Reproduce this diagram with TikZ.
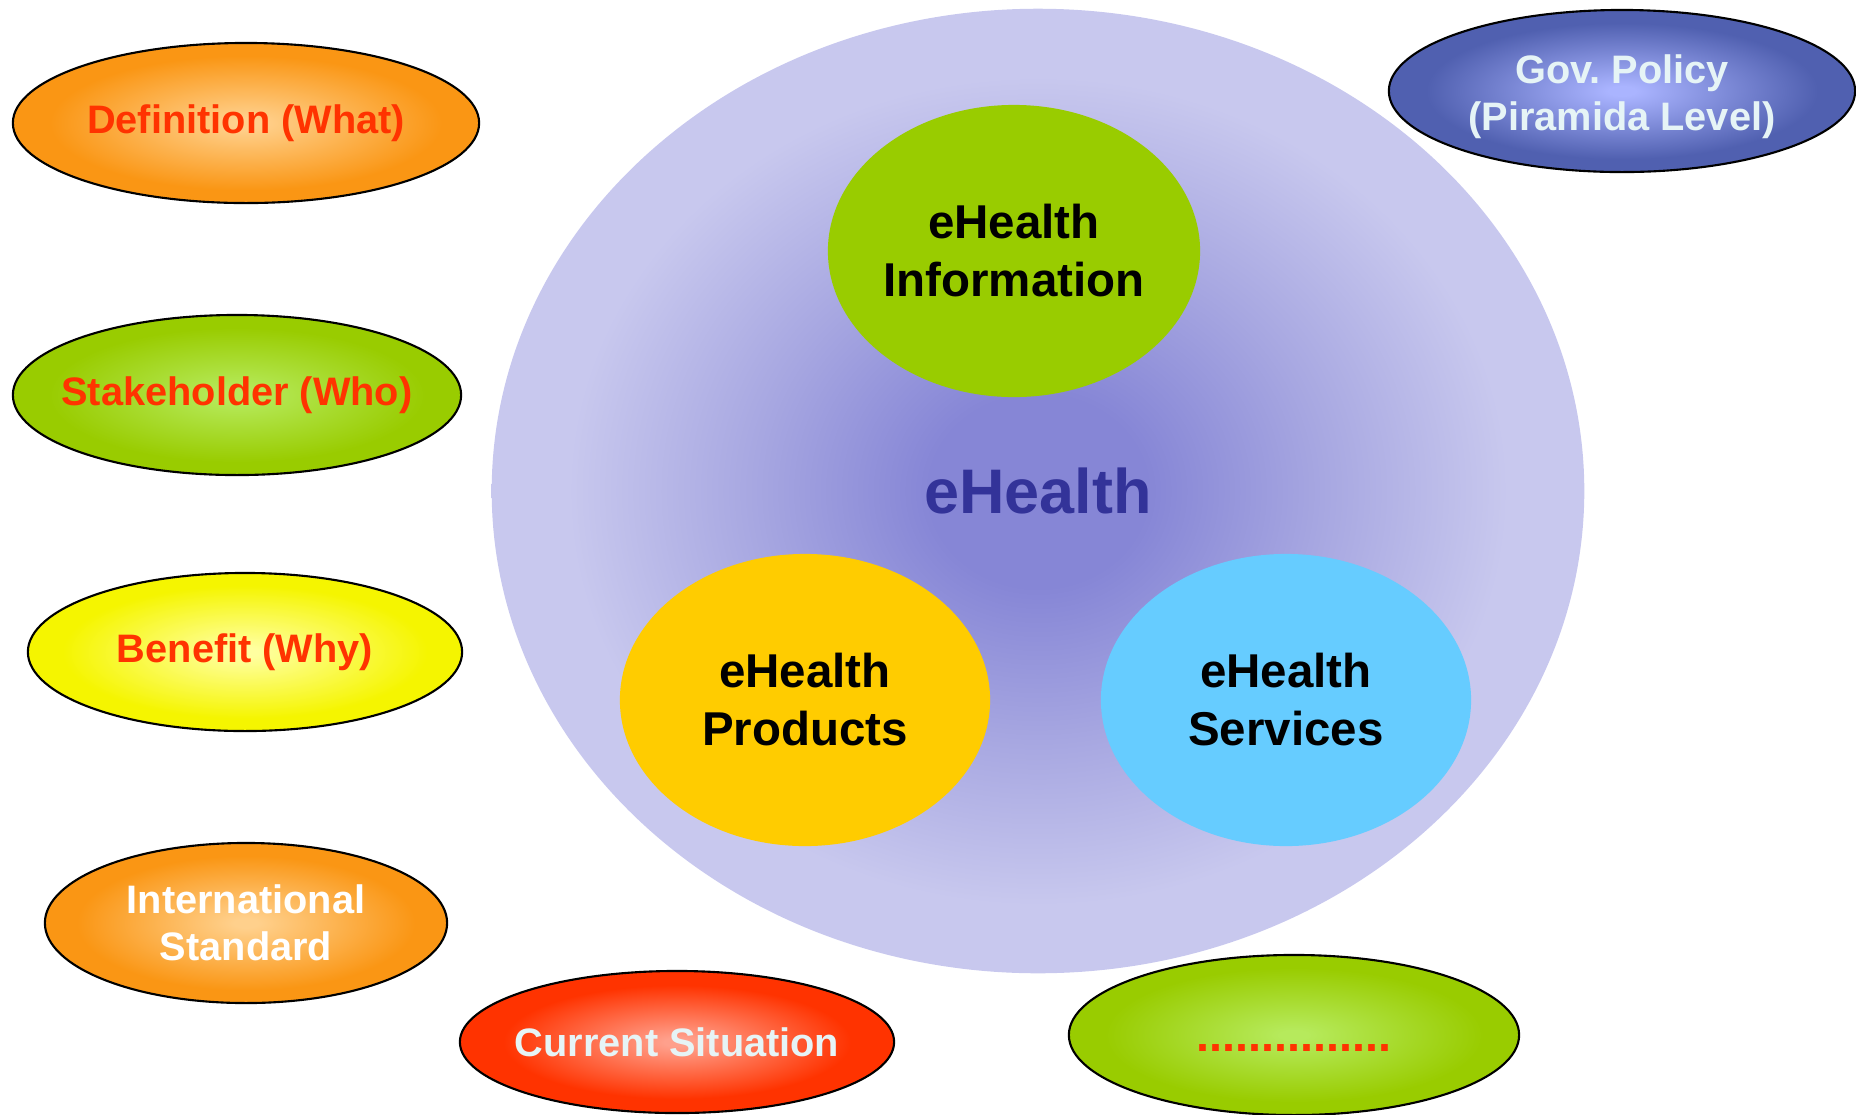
\documentclass[tikz,border=0pt]{standalone}
\usepackage{fontspec}
\setmainfont{Liberation Sans}
\usetikzlibrary{shapes.geometric}
\frenchspacing
\definecolor{bigin}{RGB}{134,134,214}
\definecolor{bigmid}{RGB}{167,167,225}
\definecolor{bigout}{RGB}{200,200,238}
\definecolor{orin}{RGB}{255,208,140}
\definecolor{orout}{RGB}{250,150,20}
\definecolor{grin}{RGB}{182,234,92}
\definecolor{grout}{RGB}{153,204,0}
\definecolor{yein}{RGB}{255,255,160}
\definecolor{yeout}{RGB}{245,245,0}
\definecolor{rdin}{RGB}{255,160,140}
\definecolor{rdout}{RGB}{255,51,0}
\definecolor{blin}{RGB}{170,180,255}
\definecolor{blout}{RGB}{80,96,176}
\definecolor{redtext}{RGB}{255,51,0}
\definecolor{paletext}{RGB}{230,244,246}
\definecolor{navytext}{RGB}{51,51,153}
\definecolor{infogreen}{RGB}{153,204,0}
\definecolor{prodyellow}{RGB}{255,204,0}
\definecolor{servblue}{RGB}{102,204,255}
\pgfdeclareradialshading{bigsh}{\pgfpoint{0bp}{0bp}}{color(0bp)=(bigin); color(5bp)=(bigin); color(13bp)=(bigmid); color(21.5bp)=(bigout); color(50bp)=(bigout)}
\pgfdeclareradialshading{orsh}{\pgfpoint{0bp}{0bp}}{color(0bp)=(orin); color(1.5bp)=(orin); color(21bp)=(orout); color(50bp)=(orout)}
\pgfdeclareradialshading{grsh}{\pgfpoint{0bp}{0bp}}{color(0bp)=(grin); color(1.5bp)=(grin); color(21bp)=(grout); color(50bp)=(grout)}
\pgfdeclareradialshading{yesh}{\pgfpoint{0bp}{0bp}}{color(0bp)=(yein); color(1.5bp)=(yein); color(21bp)=(yeout); color(50bp)=(yeout)}
\pgfdeclareradialshading{rdsh}{\pgfpoint{0bp}{0bp}}{color(0bp)=(rdin); color(1.5bp)=(rdin); color(20bp)=(rdout); color(50bp)=(rdout)}
\pgfdeclareradialshading{blsh}{\pgfpoint{0bp}{0bp}}{color(0bp)=(blin); color(1.5bp)=(blin); color(21bp)=(blout); color(50bp)=(blout)}
\begin{document}
\begin{tikzpicture}[x=0.01cm,y=-0.01cm,
  oval/.style={ellipse, draw=black, line width=0.6pt, inner sep=0pt},
  lbl/.style={align=center, inner sep=0pt, font=\bfseries\fontsize{11.3}{13.4}\selectfont},
  innerov/.style={ellipse, inner sep=0pt, align=center,
    font=\bfseries\fontsize{13.5}{16.5}\selectfont},
]
\useasboundingbox (0,0) rectangle (1856,1114);
% big circle
\node[ellipse, inner sep=0pt, shading=bigsh, minimum width=10.92cm, minimum height=9.64cm,
  text=navytext, font=\bfseries\fontsize{17.9}{20}\selectfont] (big) at (1038,491) {eHealth};
% inner ellipses
\node[innerov, fill=infogreen, minimum width=3.72cm, minimum height=2.92cm] (info) at (1014,251) {eHealth\\Information};
\node[innerov, fill=prodyellow, minimum width=3.70cm, minimum height=2.92cm] (prod) at (805,700) {eHealth\\Products};
\node[innerov, fill=servblue, minimum width=3.70cm, minimum height=2.92cm] (serv) at (1286,700) {eHealth\\Services};
% outer ovals
\node[oval, shading=orsh, minimum width=4.66cm, minimum height=1.60cm,
  label={[lbl, text=redtext]center:Definition (What)}] (def) at (246,123) {};
\node[oval, shading=grsh, minimum width=4.48cm, minimum height=1.60cm,
  label={[lbl, text=redtext]center:Stakeholder (Who)}] (stake) at (237,395) {};
\node[oval, shading=yesh, minimum width=4.34cm, minimum height=1.58cm,
  label={[lbl, text=redtext]center:Benefit (Why)}] (ben) at (245,652) {};
\node[oval, shading=orsh, minimum width=4.02cm, minimum height=1.60cm,
  label={[lbl, text=white]center:International\\Standard}] (intl) at (246,923) {};
\node[oval, shading=rdsh, minimum width=4.34cm, minimum height=1.42cm,
  label={[lbl, text=paletext]center:Current Situation}] (cur) at (677,1042) {};
\node[oval, shading=grsh, minimum width=4.50cm, minimum height=1.60cm,
  label={[lbl, text=redtext, font=\bfseries\fontsize{13.3}{13.4}\selectfont, text height=9.1pt, text depth=0pt]center:...............}] (dots) at (1294,1035) {};
\node[oval, shading=blsh, minimum width=4.66cm, minimum height=1.62cm,
  label={[lbl, text=paletext, yshift=-1.7pt]center:Gov.\ Policy\\(Piramida Level)}] (gov) at (1622,91) {};
\end{tikzpicture}
\end{document}
